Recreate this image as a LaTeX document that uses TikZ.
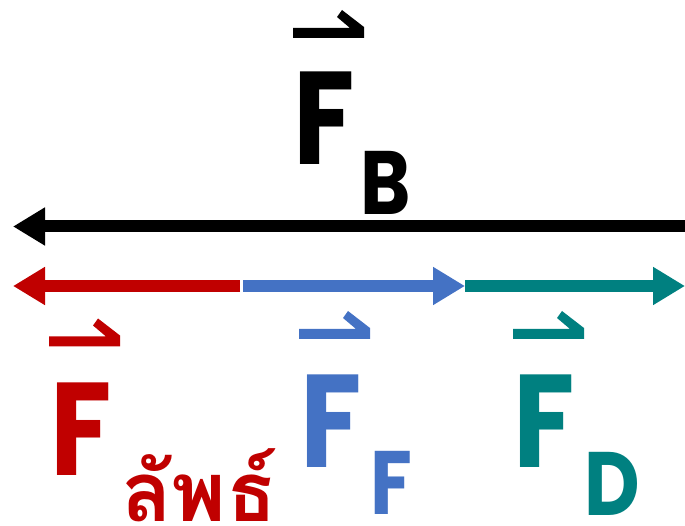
\documentclass[tikz,border=0pt]{standalone}
\usepackage{fontspec}
\setmainfont{Poppins}
\newfontfamily\blobfont{Poppins}[FakeStretch=0.85]
\newfontfamily\thaifont[Script=Thai]{Loma}
\usetikzlibrary{arrows.meta}
\definecolor{fred}{HTML}{C00000}
\definecolor{fblue}{HTML}{4472C4}
\definecolor{fteal}{HTML}{008080}
\begin{document}
\begin{tikzpicture}[x=1pt,y=-1pt,
  vecarrow/.style={line width=12pt, -{Triangle[length=32pt,width=36pt]}},
  bigF/.style={inner sep=0pt, anchor=base west, font=\fontsize{132}{132}\blobfont\bfseries},
  subF/.style={inner sep=0pt, anchor=base west, font=\fontsize{90}{90}\blobfont\bfseries},
  harpoon/.pic={\fill (0,-5) -- (57,-5) -- (44,-16) -- (49,-23) -- (71,-6) -- (71,5) -- (0,5) -- cycle;}]
\useasboundingbox (0,0) rectangle (685,526);
% arrows
\coordinate (bR) at (685,226.5);
\coordinate (bL) at (13,226.5);
\coordinate (rS) at (240,286);
\coordinate (rE) at (13,286);
\coordinate (uS) at (243,286);
\coordinate (uE) at (465,286);
\coordinate (tS) at (465,286);
\coordinate (tE) at (685,286);
\draw[vecarrow, black] (bR) -- (bL);
\draw[vecarrow, fred] (rS) -- (rE);
\draw[vecarrow, fblue] (uS) -- (uE);
\draw[vecarrow, fteal] (tS) -- (tE);
% harpoons
\pic[black] at (293,33) {harpoon};
\pic[fred] at (49,341.5) {harpoon};
\pic[fblue] at (299,334) {harpoon};
\pic[fteal] at (513,334) {harpoon};
% labels
\node[bigF, text=black] (FB) at (293,165) {F};
\node[subF, text=black] (sB) at (360,215) {B};
\node[bigF, text=fred] (FR) at (50,475) {F};
\node[inner sep=0pt, anchor=base west, text=fred, font=\fontsize{83}{83}\thaifont\bfseries] (th) at (121,521) {ลัพธ์};
\node[bigF, text=fblue] (FF) at (300,467) {F};
\node[subF, text=fblue] (sF) at (370,514) {F};
\node[bigF, text=fteal] (FD) at (513,467) {F};
\node[subF, text=fteal] (sD) at (584,515) {D};
\end{tikzpicture}
\end{document}
